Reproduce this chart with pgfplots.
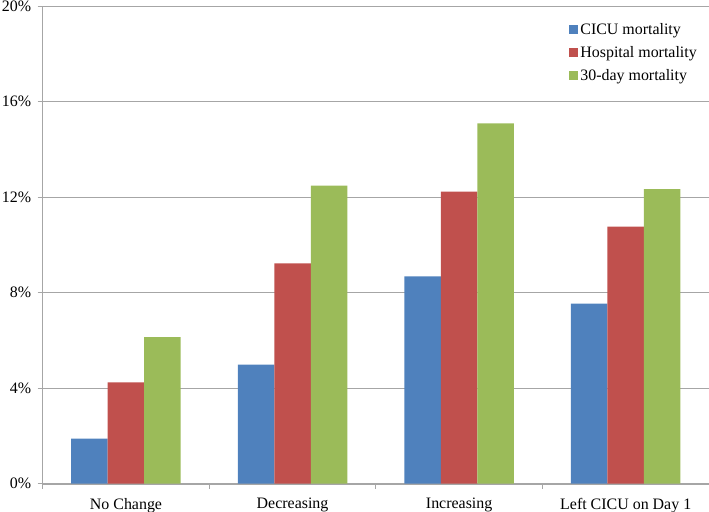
\documentclass[border=0pt]{standalone}
\usepackage{pgfplots}
\pgfplotsset{compat=1.18}
\usepackage{fontspec}
\setmainfont{Liberation Serif}
\definecolor{cblue}{HTML}{4F81BD}
\definecolor{cred}{HTML}{C0504D}
\definecolor{cgreen}{HTML}{9BBB59}
\definecolor{gridc}{HTML}{A6A6A6}
\begin{document}
\begin{tikzpicture}[font=\fontsize{16}{19}\selectfont]
\begin{axis}[
  at={(0,0)}, anchor=south west,
  scale only axis,
  width=666.3bp, height=477.4bp,
  ybar=0pt, bar width=36.5bp,
  xmin=-0.5, xmax=3.5,
  ymin=0, ymax=20,
  xtick={0,1,2,3},
  xticklabels={No Change,Decreasing,Increasing,Left CICU on Day 1},
  minor xtick={-0.5,0.5,1.5,2.5,3.5},
  ytick={0,4,8,12,16,20},
  yticklabel={\pgfmathprintnumber{\tick}\%},
  /pgf/number format/assume math mode=true,
  axis lines*=left,
  axis line style={draw=gridc},
  ymajorgrids, grid style={draw=gridc, line width=0.8bp},
  tick align=outside,
  major x tick style={draw=none},
  minor x tick style={draw=gridc, line width=0.8bp},
  major y tick style={draw=gridc, line width=0.8bp},
  minor tick length=5bp, major tick length=5bp,
  xticklabel style={yshift=-6bp},
  yticklabel style={xshift=-3bp},
  legend style={draw=none, fill=none, at={(rel axis cs:0.985,0.9685)}, anchor=north east,
    row sep=6.5bp, font=\fontsize{16}{19}\selectfont, inner sep=0pt,
    /tikz/every even column/.append style={column sep=0pt}},
  legend cell align=left,
  legend image code/.code={\fill[#1] (0bp,-4.5bp) rectangle (9bp,4.5bp);},
]
\addplot[fill=cblue, draw=none] coordinates {(0,1.89) (1,4.99) (2,8.69) (3,7.54)};
\addplot[fill=cred, draw=none] coordinates {(0,4.24) (1,9.23) (2,12.24) (3,10.77)};
\addplot[fill=cgreen, draw=none] coordinates {(0,6.14) (1,12.49) (2,15.09) (3,12.34)};
\legend{CICU mortality, Hospital mortality, 30-day mortality}
\end{axis}
\pgfresetboundingbox
\path[use as bounding box] (-42.7bp,-28.3bp) rectangle (666.3bp,483.7bp);
\end{tikzpicture}
\end{document}
